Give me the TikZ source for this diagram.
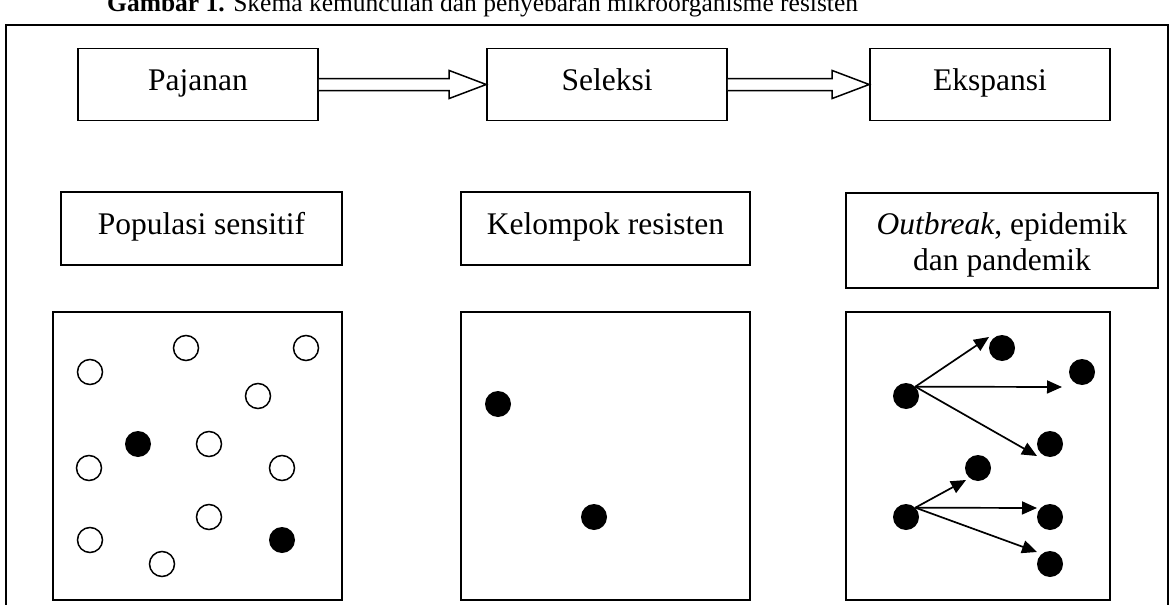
\documentclass[tikz,border=0pt]{standalone}
\usepackage{fontspec}
\setmainfont{Liberation Serif}
\usetikzlibrary{arrows.meta,calc}
\newcommand{\hollowarrow}[2]{%
  \draw[line width=1.5pt, fill=white]
    ($(#1.east)+(0,-6)$) -- ($(#2.west)+(-37,-6)$) -- ($(#2.west)+(-37,-14)$)
    -- (#2.west) -- ($(#2.west)+(-37,14)$) -- ($(#2.west)+(-37,6)$) -- ($(#1.east)+(0,6)$);}
\begin{document}
\begin{tikzpicture}[x=1pt,y=-1pt,
  boxfont/.style={font=\fontsize{31.5}{36}\selectfont},
  box/.style={draw, line width=1.6pt, inner sep=0pt, boxfont,
    text height=21pt, text depth=9pt},
  plainbox/.style={draw, line width=1.6pt, inner sep=0pt},
  panel/.style={draw, line width=1.6pt, inner sep=0pt},
  opendot/.style={circle, draw, line width=1.5pt, minimum size=25pt, inner sep=0pt},
  fulldot/.style={circle, fill=black, minimum size=26pt, inner sep=0pt},
  spread/.style={line width=1.7pt, -{Triangle[length=15pt, width=13pt]}},
  frame/.style={line width=2pt}]
\useasboundingbox (0,0) rectangle (1171,605);
% caption (cut by the page edge)
\node[anchor=base west, inner sep=0pt, font=\fontsize{25.5}{30}\selectfont] (cap) at (107,12)
  {\textbf{Gambar 1.} Skema kemunculan dan penyebaran mikroorganisme resisten};
% outer frame
\coordinate (f1) at (6,640);
\coordinate (f2) at (6,25);
\coordinate (f3) at (1168,25);
\coordinate (f4) at (1168,640);
\draw[frame] (f1) -- (f2) -- (f3) -- (f4);
% top row
\node[box, minimum width=240pt, minimum height=72pt] (pa) at (198,84.5) {Pajanan};
\node[box, minimum width=240pt, minimum height=72pt] (se) at (607,84.5) {Seleksi};
\node[box, minimum width=240pt, minimum height=72pt] (ek) at (990,84.5) {Ekspansi};
\hollowarrow{pa}{se}
\hollowarrow{se}{ek}
% label row
\node[box, minimum width=281pt, minimum height=73pt] (lp) at (201.5,228.5) {Populasi sensitif};
\node[box, minimum width=289pt, minimum height=73pt] (lk) at (605.5,228.5) {Kelompok resisten};
\node[plainbox, minimum width=312pt, minimum height=95pt] (lo) at (1002,240.5) {};
\node[boxfont, align=center, inner sep=0pt] (lot) at ($(lo.center)+(0,4)$)
  {\textit{Outbreak}, epidemik\\dan pandemik};
% panels
\node[panel, minimum width=289pt, minimum height=288pt] (b1) at (197.5,456) {};
\node[panel, minimum width=289pt, minimum height=288pt] (b2) at (605.5,456) {};
\node[panel, minimum width=264pt, minimum height=288pt] (b3) at (978,456) {};
% panel 1: sensitive population
\node[opendot] (s1) at (186,348) {};
\node[opendot] (s2) at (306,348) {};
\node[opendot] (s3) at (90,372) {};
\node[opendot] (s4) at (258,396) {};
\node[fulldot] (r1) at (138,444) {};
\node[opendot] (s5) at (209,444) {};
\node[opendot] (s6) at (89,468) {};
\node[opendot] (s7) at (282,468) {};
\node[opendot] (s8) at (209,517) {};
\node[opendot] (s9) at (90,540) {};
\node[fulldot] (r2) at (282,540) {};
\node[opendot] (s10) at (162,564) {};
% panel 2: resistant group
\node[fulldot] (k1) at (498,404) {};
\node[fulldot] (k2) at (594,517) {};
% panel 3: expansion
\node[fulldot] (A) at (906,396) {};
\node[fulldot] (B) at (1002,348) {};
\node[fulldot] (C) at (1082,372) {};
\node[fulldot] (D) at (1050,444) {};
\node[fulldot] (E) at (978,468) {};
\node[fulldot] (F) at (906,517) {};
\node[fulldot] (G) at (1050,517) {};
\node[fulldot] (H) at (1050,564) {};
\coordinate (tB) at (989,337);
\coordinate (tC) at (1062,387);
\coordinate (tD) at (1037,456);
\coordinate (tE) at (966,480);
\coordinate (tG) at (1037,508);
\coordinate (tH) at (1037,552);
\draw[spread] (A.45) -- (tB);
\draw[spread] (A.45) -- (tC);
\draw[spread] (A.45) -- (tD);
\draw[spread] (F.45) -- (tE);
\draw[spread] (F.45) -- (tG);
\draw[spread] (F.45) -- (tH);
\end{tikzpicture}
\end{document}
